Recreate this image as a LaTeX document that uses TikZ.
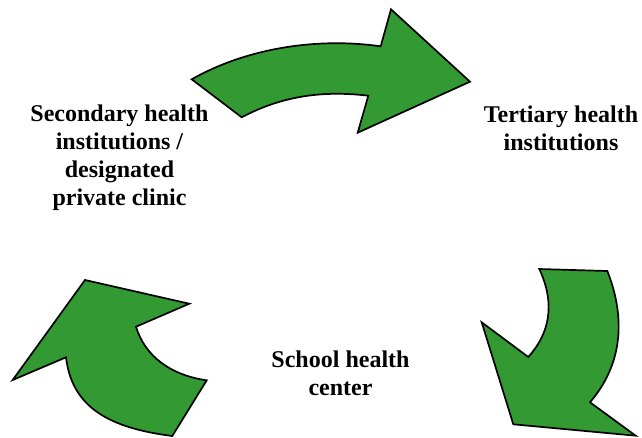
\documentclass[tikz,border=0pt]{standalone}
\usepackage{fontspec}
\setmainfont{Liberation Serif}
\definecolor{arrowgreen}{HTML}{339933}
\tikzset{
  bigarrow/.style={draw=black,fill=arrowgreen,line width=1.7pt,line join=miter,miter limit=10},
  lbl/.style={font=\fontsize{24}{28}\selectfont\bfseries,align=center,inner sep=0pt,text=black}
}
\begin{document}
\begin{tikzpicture}[x=1pt,y=-1pt]
\useasboundingbox (0,0) rectangle (642,437);
\fill[white] (0,0) rectangle (642,437);
% top arrow
\draw[bigarrow] (191.7,79.3) .. controls (245,49) and (315,37) .. (380.7,46.3)
  -- (391,9.3) -- (470,81.7) -- (357.7,132.7) -- (368.3,95.7)
  .. controls (320,90) and (280,97) .. (241.7,117.3) -- cycle;
% right arrow
\draw[bigarrow] (539.3,269) -- (607.3,271)
  .. controls (622,308) and (628,358) .. (590,402.3)
  -- (635.7,435.7) -- (513.3,424.3) -- (481.7,322.3) -- (528.3,357)
  .. controls (549,334) and (556,305) .. cycle;
% left arrow
\draw[bigarrow] (85,280) -- (189.3,303.7) -- (136,326.7)
  .. controls (145,356) and (170,375) .. (206.7,380.3)
  -- (172.3,436)
  .. controls (110,428) and (72,408) .. (66,357.3)
  -- (12.7,380) -- cycle;
\node[lbl] (secondary) at (119.5,157.4) {Secondary health\\institutions /\\designated\\private clinic};
\node[lbl] (tertiary) at (561,127.9) {Tertiary health\\institutions};
\node[lbl] (school) at (340.5,373.4) {School health\\center};
\end{tikzpicture}
\end{document}
